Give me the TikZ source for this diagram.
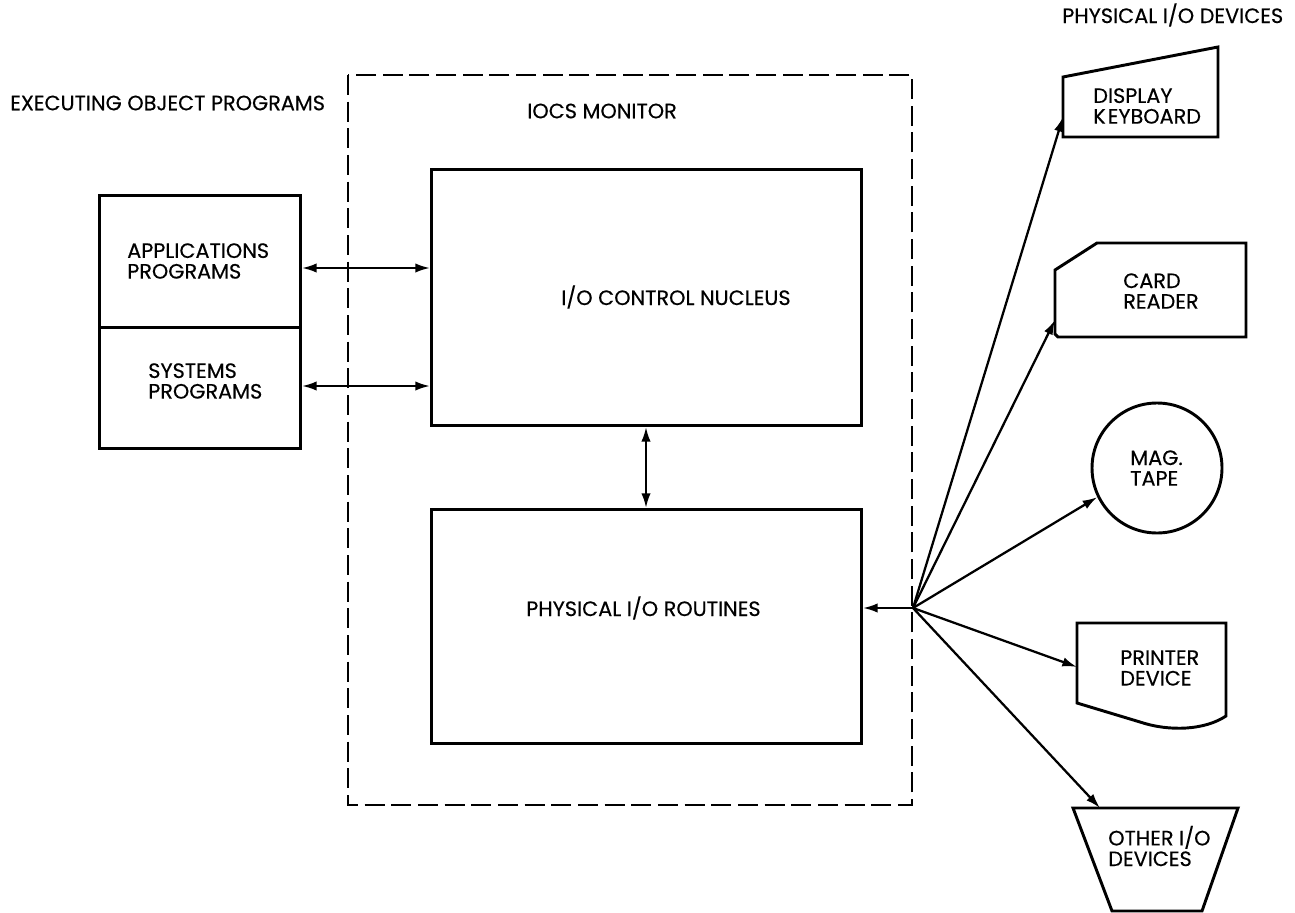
\documentclass[tikz,border=0pt]{standalone}
\usepackage{fontspec}
\setmainfont{Poppins}[FakeBold=0.35]
\usetikzlibrary{arrows.meta}
\begin{document}
\begin{tikzpicture}[x=0.75pt,y=-0.75pt,
  every node/.style={font=\fontsize{15.6}{15.5}\selectfont},
  lbl/.style={anchor=west,align=left,inner sep=0pt},
  box/.style={draw,line width=2.2pt},
  shp/.style={line width=2.2pt,line join=miter},
  conn/.style={line width=1.7pt},
  tip/.style={-{Latex[length=11pt,width=7pt]}},
  both/.style={{Latex[length=11pt,width=7pt]}-{Latex[length=11pt,width=7pt]}},
  monitor/.style={draw,line width=1.8pt,dash pattern=on 15pt off 5pt}]
\useasboundingbox (0,0) rectangle (1295,913);

% IOCS monitor boundary
\draw[monitor] (348,75) rectangle (912,805);
\node[lbl] (mon) at (527,111) {IOCS MONITOR};

% executing object programs
\node[lbl] (exec) at (10,103) {EXECUTING OBJECT PROGRAMS};
\node[box,minimum width=201*0.75pt,minimum height=132*0.75pt,anchor=north west] (apps) at (98,194) {};
\node[box,minimum width=201*0.75pt,minimum height=121*0.75pt,anchor=north west] (sys) at (98,326) {};
\node[lbl] at (127,261) {APPLICATIONS\\PROGRAMS};
\node[lbl] at (148,381) {SYSTEMS\\PROGRAMS};

% monitor internals
\node[box,minimum width=430*0.75pt,minimum height=256*0.75pt,anchor=north west] (nucleus) at (430,168) {};
\node[lbl] at (561,297) {I/O CONTROL NUCLEUS};
\node[box,minimum width=430*0.75pt,minimum height=234*0.75pt,anchor=north west] (phys) at (430,508) {};
\node[lbl] at (526,608) {PHYSICAL I/O ROUTINES};

\draw[conn,both] (apps.east |- 0,268) -- (nucleus.west |- 0,268);
\draw[conn,both] (sys.east |- 0,386) -- (nucleus.west |- 0,386);
\draw[conn,both] (nucleus.south -| 646,0) -- (phys.north -| 646,0);

% physical devices
\node[lbl] (devs) at (1062,15) {PHYSICAL I/O DEVICES};

% display keyboard
\coordinate (kbd) at (1063,117);
\draw[shp] (1063,77) -- (1218,47) -- (1218,137) -- (1063,137) -- cycle;
\node[lbl] at (1093,106) {DISPLAY\\K\kern1.5pt EYBOARD};

% card reader
\coordinate (card) at (1055,320);
\draw[shp] (1055,270) -- (1097,243) -- (1246,243) -- (1246,337) -- (1058,337) -- (1055,334) -- cycle;
\node[lbl] at (1123,291) {CARD\\READER};

% magnetic tape
\node[draw,circle,line width=2.2pt,minimum size=130*0.75pt,inner sep=0pt] (tape) at (1157,468) {};
\node[lbl] at (1130,468) {MAG.\\TAPE};

% printer
\coordinate (prn) at (1077,667);
\draw[shp] (1077,623) -- (1226,623) -- (1226,716) .. controls (1205,730) and (1170,732) .. (1140,722) -- (1077,703) -- cycle;
\node[lbl] at (1120,668) {PRINTER\\DEVICE};

% other devices
\coordinate (oth) at (1100,808);
\draw[shp] (1073,808) -- (1238,808) -- (1202,911) -- (1112,911) -- cycle;
\node[lbl] at (1108,846) {OTHER I/O\\DEVICES};

% fan-out from the routines
\coordinate (hub) at (913,608);
\draw[conn,tip] (hub) -- (phys.east |- hub);
\draw[conn,tip] (hub) -- (kbd);
\draw[conn,tip] (hub) -- (card);
\draw[conn,tip] (hub) -- (tape.206);
\draw[conn,tip] (hub) -- (prn);
\draw[conn,tip] (hub) -- (oth);
\end{tikzpicture}
\end{document}
